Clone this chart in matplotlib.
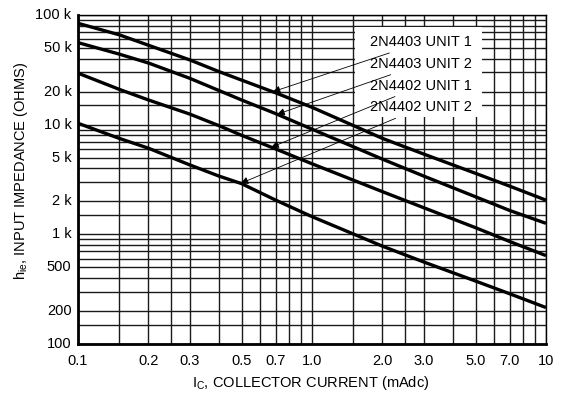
import numpy as np
import matplotlib
matplotlib.use("Agg")
import matplotlib.pyplot as plt
import matplotlib.ticker as mtick
from matplotlib.patches import Rectangle

plt.rcParams['font.family'] = ['Liberation Sans', 'DejaVu Sans']
plt.rcParams['mathtext.fontset'] = 'custom'
plt.rcParams['mathtext.rm'] = 'Liberation Sans'
plt.rcParams['mathtext.default'] = 'rm'

# collector current (mA) and input impedance (ohms) per device
ic_ma = [0.1, 0.15, 0.2, 0.3, 0.4, 0.5, 0.7, 1.0, 2.0, 3.0, 5.0, 7.0, 10.0]
hie_4403_u1 = [84000, 66000, 53000, 39000, 30500, 25500, 19500, 14400, 7500, 5400, 3600, 2750, 2050]
hie_4403_u2 = [56000, 44000, 36500, 26500, 20500, 16800, 12600, 9100, 4850, 3400, 2200, 1650, 1260]
hie_4402_u1 = [29500, 21000, 16800, 12500, 9800, 8000, 6000, 4400, 2450, 1750, 1150, 860, 640]
hie_4402_u2 = [10300, 7500, 6100, 4300, 3400, 2900, 2050, 1450, 780, 560, 375, 287, 215]

curves = [hie_4403_u1, hie_4403_u2, hie_4402_u1, hie_4402_u2]
names = ['2N4403 UNIT 1', '2N4403 UNIT 2', '2N4402 UNIT 1', '2N4402 UNIT 2']
arrow_x = [0.68, 0.71, 0.67, 0.496]   # where each pointer lands on its curve

x_ticks = [0.1, 0.2, 0.3, 0.5, 0.7, 1.0, 2.0, 3.0, 5.0, 7.0, 10]
x_labels = ['0.1', '0.2', '0.3', '0.5', '0.7', '1.0', '2.0', '3.0', '5.0', '7.0', '10']
y_ticks = [100, 200, 500, 1e3, 2e3, 5e3, 1e4, 2e4, 5e4, 1e5]
y_labels = ['100', '200', '500', '1 k', '2 k', '5 k', '10 k', '20 k', '50 k', '100 k']

x_grid_steps = [1, 1.5, 2, 2.5, 3, 4, 5, 6, 7, 8, 9]
y_grid_steps = [1, 1.5, 2, 3, 4, 5, 6, 7, 8, 9]
x_grid = [s * d for d in (0.1, 1.0) for s in x_grid_steps] + [10]
y_grid = [s * d for d in (100, 1000, 10000) for s in y_grid_steps] + [100000]

fs = 10.5

fig = plt.figure(figsize=(5.64, 3.98), dpi=100)
ax = fig.add_axes([0.1383, 0.1357, 0.8297, 0.8266])
ax.set_xscale('log')
ax.set_yscale('log')
ax.set_xlim(0.1, 10)
ax.set_ylim(100, 100000)

ax.set_axisbelow(True)
ax.xaxis.set_major_locator(mtick.FixedLocator(x_grid))
ax.yaxis.set_major_locator(mtick.FixedLocator(y_grid))
ax.xaxis.set_minor_locator(mtick.NullLocator())
ax.yaxis.set_minor_locator(mtick.NullLocator())
ax.grid(True, which='major', color='#1a1a1a', lw=1.0)
ax.tick_params(which='both', length=0, labelbottom=False, labelleft=False)

# labels drawn separately so that only the marked values get text
for xv, lab in zip(x_ticks, x_labels):
    ax.text(xv, -0.03, lab, transform=ax.get_xaxis_transform(),
            ha='center', va='top', fontsize=fs)
for yv, lab in zip(y_ticks, y_labels):
    ax.text(-0.014, yv, lab, transform=ax.get_yaxis_transform(),
            ha='right', va='center', fontsize=fs)

# blank panel behind the device labels
ax.add_patch(Rectangle((0.592, 0.69), 0.271, 0.273, transform=ax.transAxes,
                       facecolor='white', edgecolor='none', zorder=1))

for hie in curves:
    ax.plot(ic_ma, hie, color='black', lw=2.4, solid_capstyle='butt', zorder=3)

for i, (hie, name, xa) in enumerate(zip(curves, names, arrow_x)):
    ya = 10 ** np.interp(np.log10(xa), np.log10(ic_ma), np.log10(hie))
    ax.annotate(name, xy=(xa, ya), xytext=(0.625, 0.917 - i * 0.066),
                textcoords='axes fraction', ha='left', va='center', fontsize=fs,
                zorder=4,
                arrowprops=dict(arrowstyle='-|>', color='black', lw=0.6,
                                mutation_scale=11, shrinkA=2, shrinkB=0))

for side in ('left', 'bottom'):
    ax.spines[side].set_linewidth(2.0)
for side in ('top', 'right'):
    ax.spines[side].set_linewidth(1.0)

fig.text(0.037, 0.57, r'h$_{\mathrm{ie}}$, INPUT IMPEDANCE (OHMS)', rotation=90,
         ha='center', va='center', fontsize=fs)
fig.text(0.55, 0.037, r'I$_{\mathrm{C}}$, COLLECTOR CURRENT (mAdc)',
         ha='center', va='center', fontsize=fs)

fig.savefig('out.png', dpi=100)
